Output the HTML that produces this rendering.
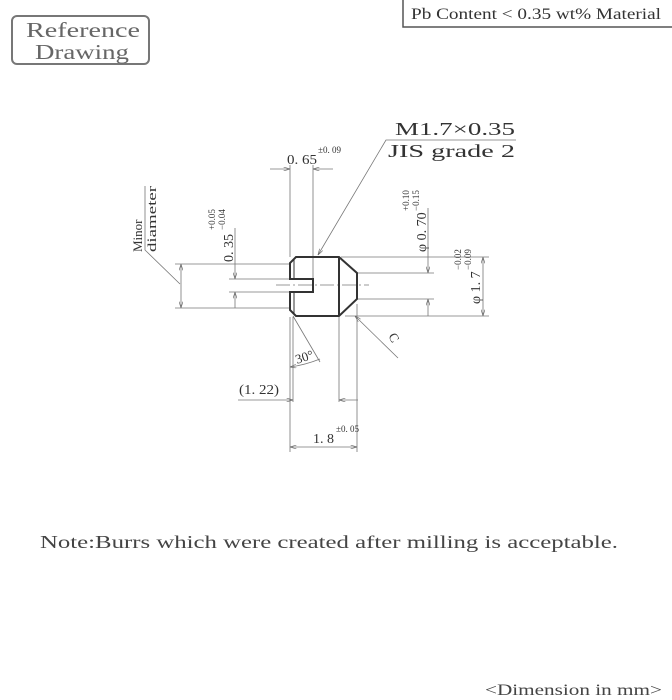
<!DOCTYPE html>
<html><head><meta charset="utf-8"><style>
html,body{margin:0;padding:0;background:#fff;}
svg{display:block;}
text{font-family:"Liberation Serif",serif;fill:#333;}
</style></head><body>
<svg width="672" height="700" viewBox="0 0 672 700" xmlns="http://www.w3.org/2000/svg">
<defs>
<marker id="a" viewBox="0 0 10 6" refX="10" refY="3" markerWidth="8" markerHeight="5" orient="auto-start-reverse"><path d="M0,0 L10,3 L0,6" fill="none" stroke="#666" stroke-width="1"/></marker>
</defs>
<rect x="12" y="16" width="137" height="48" rx="5" fill="none" stroke="#777" stroke-width="2"/>
<text x="26" y="37" font-size="21" textLength="114" lengthAdjust="spacingAndGlyphs" style="fill:#666">Reference</text>
<text x="35" y="59" font-size="21" textLength="94" lengthAdjust="spacingAndGlyphs" style="fill:#666">Drawing</text>
<path d="M403,0 V27 H672" fill="none" stroke="#555" stroke-width="1.5"/>
<text x="411" y="19" font-size="16" textLength="250" lengthAdjust="spacingAndGlyphs">Pb Content &lt; 0.35 wt% Material</text>

<g stroke="#777" stroke-width="0.8" fill="none">
<line x1="290" y1="165" x2="290" y2="257"/>
<line x1="313" y1="165" x2="313" y2="279"/>
<line x1="270" y1="169" x2="290" y2="169" marker-end="url(#a)"/>
<line x1="333" y1="169" x2="313" y2="169" marker-end="url(#a)"/>
<polyline points="516,140 386,140 318,255" marker-end="url(#a)"/>
<line x1="175" y1="264" x2="290" y2="264"/>
<line x1="175" y1="308" x2="290" y2="308"/>
<line x1="181" y1="264" x2="181" y2="308" marker-start="url(#a)" marker-end="url(#a)"/>
<polyline points="180,284 145,250 145,186"/>
<line x1="229" y1="279" x2="290" y2="279"/>
<line x1="229" y1="292" x2="290" y2="292"/>
<line x1="235" y1="228" x2="235" y2="279" marker-end="url(#a)"/>
<line x1="235" y1="308" x2="235" y2="292" marker-end="url(#a)"/>
<line x1="357" y1="273" x2="434" y2="273"/>
<line x1="357" y1="299" x2="434" y2="299"/>
<line x1="428" y1="208" x2="428" y2="273" marker-end="url(#a)"/>
<line x1="428" y1="316" x2="428" y2="299" marker-end="url(#a)"/>
<line x1="341" y1="257" x2="489" y2="257"/>
<line x1="345" y1="316" x2="489" y2="316"/>
<line x1="483" y1="257" x2="483" y2="316" marker-start="url(#a)" marker-end="url(#a)"/>
<line x1="276" y1="285" x2="369" y2="285" stroke-dasharray="14,3,2,3"/>
<line x1="398" y1="358" x2="355" y2="316" marker-end="url(#a)"/>
<line x1="293" y1="316" x2="320" y2="362"/>
<path d="M290,367 Q305,365 320,359" marker-start="url(#a)"/>
<line x1="293" y1="317" x2="293" y2="402"/>
<line x1="339" y1="317" x2="339" y2="402"/>
<line x1="357" y1="304" x2="357" y2="452"/>
<line x1="290" y1="317" x2="290" y2="452"/>
<line x1="238" y1="400" x2="293" y2="400" marker-end="url(#a)"/>
<line x1="358" y1="400" x2="339" y2="400" marker-end="url(#a)"/>
<line x1="290" y1="447" x2="357" y2="447" marker-start="url(#a)" marker-end="url(#a)"/>
</g>
<g stroke="#333" stroke-width="2" fill="none">
<path d="M313,257 H339 L357,273 V299 L339,316 H296 L290,310 V292 H313 V279 H290 V263 L296,257 Z"/>
<line x1="339" y1="257" x2="339" y2="316"/>
<line x1="294" y1="259" x2="294" y2="279" stroke-width="1"/>
<line x1="294" y1="292" x2="294" y2="314" stroke-width="1"/>
</g>

<text x="287" y="164" font-size="14" textLength="30" lengthAdjust="spacingAndGlyphs">0. 65</text>
<text x="318" y="153" font-size="9">±0. 09</text>
<text x="395" y="135" font-size="18" textLength="120" lengthAdjust="spacingAndGlyphs">M1.7×0.35</text>
<text x="388" y="157" font-size="18" textLength="127" lengthAdjust="spacingAndGlyphs">JIS grade 2</text>
<text transform="translate(142,252) rotate(-90)" font-size="13">Minor</text>
<text transform="translate(156,252) rotate(-90)" font-size="13" textLength="66" lengthAdjust="spacingAndGlyphs">diameter</text>
<text transform="translate(233,262) rotate(-90)" font-size="14">0. 35</text>
<text transform="translate(215,230) rotate(-90)" font-size="9">+0.05</text>
<text transform="translate(225,230) rotate(-90)" font-size="9">−0.04</text>
<text transform="translate(426,252) rotate(-90)" font-size="14">φ 0. 70</text>
<text transform="translate(409,211) rotate(-90)" font-size="9">+0.10</text>
<text transform="translate(419,211) rotate(-90)" font-size="9">−0.15</text>
<text transform="translate(480,304) rotate(-90)" font-size="14">φ 1. 7</text>
<text transform="translate(461,270) rotate(-90)" font-size="9">−0.02</text>
<text transform="translate(471,270) rotate(-90)" font-size="9">−0.09</text>
<text transform="translate(388,336) rotate(60)" font-size="13">C</text>
<text x="295" y="361" font-size="13" transform="rotate(-18 305 356)">30°</text>
<text x="239" y="394" font-size="14" textLength="40" lengthAdjust="spacingAndGlyphs">(1. 22)</text>
<text x="313" y="443" font-size="14">1. 8</text>
<text x="336" y="432" font-size="9">±0. 05</text>

<text x="40" y="548" font-size="17.5" textLength="578" lengthAdjust="spacingAndGlyphs" style="fill:#444">Note:Burrs which were created after milling is acceptable.</text>
<text x="485" y="695" font-size="16" textLength="177" lengthAdjust="spacingAndGlyphs" style="fill:#444">&lt;Dimension in mm&gt;</text>
</svg>
</body></html>
